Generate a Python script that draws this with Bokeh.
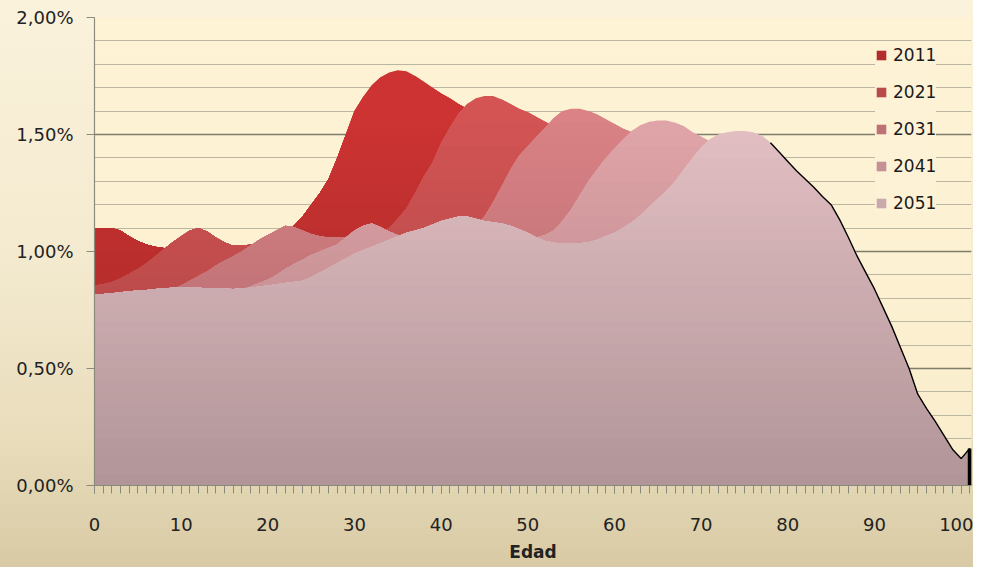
import numpy as np
from bokeh.plotting import figure
from bokeh.models import Range1d, SingleIntervalTicker, CustomJSTickFormatter, Legend, LegendItem
from bokeh.embed import file_html
from bokeh.resources import INLINE

# ---------------- data (percent of population by age) ----------------
ages = list(range(0, 102))
years = ["2011", "2021", "2031", "2041", "2051"]

s2011 = [1.10, 1.10, 1.10, 1.09, 1.065, 1.045, 1.03, 1.02, 1.015, 1.01,
         1.00, 0.99, 0.98, 0.975, 0.97, 0.97, 0.975, 0.985, 1.00, 1.02,
         1.04, 1.06, 1.09, 1.11, 1.15, 1.20, 1.25, 1.31, 1.40, 1.50,
         1.60, 1.66, 1.71, 1.745, 1.765, 1.775, 1.77, 1.75, 1.725, 1.70,
         1.675, 1.655, 1.63, 1.61, 1.59, 1.57, 1.55, 1.52, 1.49, 1.46,
         1.43, 1.40, 1.37, 1.33, 1.29, 1.25, 1.22, 1.19, 1.16, 1.14,
         1.12, 1.10, 1.08, 1.06, 1.04, 1.02, 0.99, 0.96, 0.93, 0.90,
         0.88, 0.86, 0.84, 0.82, 0.80, 0.78, 0.76, 0.73, 0.70, 0.67,
         0.64, 0.60, 0.56, 0.52, 0.48, 0.44, 0.40, 0.35, 0.30, 0.26,
         0.22, 0.18, 0.15, 0.12, 0.09, 0.07, 0.05, 0.04, 0.03, 0.02,
         0.015, 0.02]

s2021 = [0.855, 0.86, 0.87, 0.885, 0.905, 0.925, 0.95, 0.98, 1.01, 1.04,
         1.065, 1.09, 1.10, 1.085, 1.06, 1.04, 1.025, 1.025, 1.03, 1.03,
         1.03, 1.03, 1.035, 1.04, 1.045, 1.05, 1.045, 1.045, 1.05, 1.055,
         1.065, 1.07, 1.075, 1.085, 1.10, 1.14, 1.185, 1.25, 1.32, 1.38,
         1.465, 1.53, 1.59, 1.63, 1.655, 1.665, 1.665, 1.65, 1.63, 1.61,
         1.595, 1.575, 1.555, 1.535, 1.515, 1.495, 1.47, 1.44, 1.40, 1.36,
         1.32, 1.28, 1.24, 1.20, 1.16, 1.13, 1.10, 1.07, 1.04, 1.01,
         0.98, 0.95, 0.92, 0.89, 0.86, 0.83, 0.80, 0.77, 0.74, 0.71,
         0.68, 0.64, 0.60, 0.56, 0.52, 0.48, 0.44, 0.40, 0.36, 0.32,
         0.28, 0.24, 0.20, 0.17, 0.14, 0.11, 0.09, 0.07, 0.05, 0.04,
         0.03, 0.04]

s2031 = [0.80, 0.80, 0.805, 0.81, 0.815, 0.82, 0.825, 0.83, 0.835, 0.84,
         0.855, 0.875, 0.895, 0.915, 0.94, 0.96, 0.98, 1.00, 1.025, 1.05,
         1.07, 1.09, 1.11, 1.105, 1.09, 1.075, 1.065, 1.06, 1.06, 1.06,
         1.055, 1.05, 1.045, 1.04, 1.035, 1.03, 1.03, 1.035, 1.04, 1.05,
         1.06, 1.07, 1.08, 1.09, 1.11, 1.15, 1.21, 1.28, 1.35, 1.41,
         1.45, 1.49, 1.53, 1.57, 1.60, 1.61, 1.61, 1.60, 1.585, 1.565,
         1.545, 1.525, 1.51, 1.49, 1.465, 1.44, 1.41, 1.38, 1.34, 1.30,
         1.26, 1.22, 1.18, 1.14, 1.10, 1.06, 1.02, 0.98, 0.94, 0.90,
         0.86, 0.82, 0.78, 0.74, 0.70, 0.65, 0.60, 0.55, 0.50, 0.45,
         0.40, 0.35, 0.30, 0.26, 0.22, 0.18, 0.15, 0.12, 0.09, 0.07,
         0.05, 0.06]

s2041 = [0.795, 0.795, 0.80, 0.80, 0.805, 0.81, 0.81, 0.815, 0.82, 0.82,
         0.825, 0.825, 0.83, 0.83, 0.83, 0.835, 0.835, 0.84, 0.85, 0.865,
         0.88, 0.90, 0.925, 0.945, 0.965, 0.985, 1.00, 1.015, 1.03, 1.06,
         1.09, 1.11, 1.12, 1.105, 1.085, 1.07, 1.06, 1.055, 1.05, 1.05,
         1.05, 1.05, 1.05, 1.05, 1.05, 1.05, 1.05, 1.05, 1.05, 1.05,
         1.055, 1.06, 1.07, 1.09, 1.13, 1.18, 1.24, 1.30, 1.35, 1.40,
         1.44, 1.48, 1.515, 1.54, 1.555, 1.56, 1.56, 1.55, 1.535, 1.51,
         1.49, 1.47, 1.45, 1.42, 1.39, 1.36, 1.32, 1.28, 1.23, 1.18,
         1.13, 1.08, 1.03, 0.98, 0.93, 0.88, 0.82, 0.76, 0.70, 0.64,
         0.58, 0.52, 0.46, 0.40, 0.34, 0.28, 0.23, 0.18, 0.14, 0.10,
         0.08, 0.10]

s2051 = [0.815, 0.818, 0.822, 0.826, 0.83, 0.833, 0.836, 0.84, 0.843, 0.845,
         0.846, 0.846, 0.845, 0.843, 0.842, 0.841, 0.84, 0.842, 0.845, 0.85,
         0.855, 0.86, 0.865, 0.87, 0.875, 0.89, 0.91, 0.93, 0.95, 0.97,
         0.99, 1.005, 1.02, 1.035, 1.05, 1.065, 1.08, 1.09, 1.10, 1.115,
         1.13, 1.14, 1.15, 1.15, 1.14, 1.13, 1.125, 1.12, 1.11, 1.095,
         1.08, 1.06, 1.045, 1.037, 1.034, 1.034, 1.035, 1.04, 1.05, 1.065,
         1.08, 1.10, 1.125, 1.155, 1.19, 1.225, 1.26, 1.30, 1.35, 1.40,
         1.445, 1.48, 1.50, 1.51, 1.515, 1.515, 1.51, 1.495, 1.465, 1.425,
         1.385, 1.345, 1.31, 1.275, 1.235, 1.20, 1.135, 1.06, 0.98, 0.91,
         0.84, 0.76, 0.68, 0.59, 0.50, 0.39, 0.33, 0.275, 0.215, 0.155,
         0.115, 0.158]

series = [s2011, s2021, s2031, s2041, s2051]
colors = ["#CC3332", "#D45454", "#DA8286", "#E1A5A9", "#E4C0C4"]

# ---------------- figure ----------------
p = figure(width=973, height=567, output_backend="svg", toolbar_location=None,
           x_range=Range1d(0, 101.2), y_range=Range1d(0, 2.0),
           min_border_left=94, min_border_right=2, min_border_top=17, min_border_bottom=82)

p.styles = {"background": "linear-gradient(to bottom, #FBF2DC 0%, #F4EACF 45%, #E8DCBB 78%, #D8CAA4 100%)"}
p.border_fill_color = None
p.background_fill_color = "#FFF3D3"
p.background_fill_alpha = 0.75
p.outline_line_color = None

def shade(hexc, f):
    r, g, b = int(hexc[1:3], 16), int(hexc[3:5], 16), int(hexc[5:7], 16)
    return "#%02x%02x%02x" % (min(255, round(r * f)), min(255, round(g * f)), min(255, round(b * f)))

def fac(level):
    return 0.77 + 0.23 * min(level, 1.6) / 1.6

legend_items = []
x = np.array(ages, dtype=float)
for name, vals, col in zip(years, series, colors):
    v = np.array(vals, dtype=float)
    top = v.max()
    p.varea(x=x, y1=0, y2=v, fill_color=shade(col, fac(top)), fill_alpha=1)
    levels = np.round(np.arange(0.05, top, 0.05), 3)[::-1]
    mid_r = None
    for L in levels:
        r = p.varea(x=x, y1=0, y2=np.minimum(v, L), fill_color=shade(col, fac(L)), fill_alpha=1)
        if mid_r is None and L <= 0.75:
            mid_r = r
    legend_items.append(LegendItem(label=name, renderers=[mid_r]))

# dark outline along the right edge of the front series
p.line(x=x[78:], y=np.array(s2051)[78:], line_color="black", line_width=1.4)
p.segment(x0=[ages[-1]], y0=[0], x1=[ages[-1]], y1=[s2051[-1]], line_color="black", line_width=4)

# ---------------- axes / grid ----------------
p.xaxis.ticker = SingleIntervalTicker(interval=10, num_minor_ticks=10)
p.yaxis.ticker = SingleIntervalTicker(interval=0.5, num_minor_ticks=5)
p.yaxis.formatter = CustomJSTickFormatter(code="return tick.toFixed(2).replace('.', ',') + '%';")

for ax in (p.xaxis, p.yaxis):
    ax.axis_line_color = "#8c8a7c"
    ax.axis_line_width = 1.2
    ax.major_tick_line_color = "#8c8a7c"
    ax.minor_tick_line_color = "#8c8a7c"
    ax.major_tick_in = 0
    ax.minor_tick_in = 0
    ax.major_label_text_font = "DejaVu Sans"
    ax.major_label_text_font_size = "18px"
    ax.major_label_text_color = "#222222"

p.xaxis.major_tick_out = 8
p.xaxis.minor_tick_out = 8
p.xaxis.major_label_standoff = 24
p.xaxis.axis_label = "Edad"
p.xaxis.axis_label_text_font = "DejaVu Sans"
p.xaxis.axis_label_text_font_style = "bold"
p.xaxis.axis_label_text_font_size = "17px"
p.xaxis.axis_label_text_color = "#222222"
p.xaxis.axis_label_standoff = 8

p.yaxis.major_tick_out = 8
p.yaxis.minor_tick_out = 0
p.yaxis.major_label_standoff = 13

p.xgrid.grid_line_color = None
p.ygrid.grid_line_color = "#7e7e6a"
p.ygrid.grid_line_width = 1.3
p.ygrid.minor_grid_line_color = "#bab6a2"
p.ygrid.minor_grid_line_width = 1.0

legend = Legend(items=legend_items, location=(781, 272), orientation="vertical",
                background_fill_color="#FDF2D6", background_fill_alpha=1,
                border_line_color=None, padding=13, spacing=17, margin=0,
                glyph_width=12, glyph_height=12, label_height=20, label_standoff=6,
                label_text_font="DejaVu Sans", label_text_font_size="17px",
                label_text_color="#1a1a1a")
p.add_layout(legend)

open("out.html", "w").write(file_html(p, INLINE))
